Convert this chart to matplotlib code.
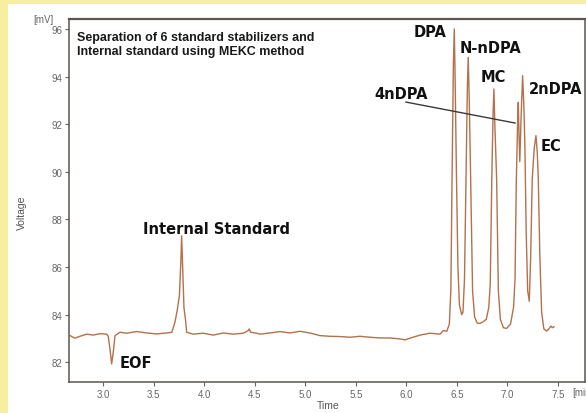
import matplotlib.pyplot as plt
from matplotlib.patches import Rectangle

# электрофореграмма: время (мин) и напряжение (мВ)
time_min = [2.673, 2.722, 2.771, 2.838, 2.903, 2.969, 3.036, 3.051, 3.068, 3.085,
            3.101, 3.118, 3.167, 3.233, 3.332, 3.431, 3.530, 3.629, 3.680, 3.711,
            3.734, 3.755, 3.770, 3.777, 3.785, 3.800, 3.815, 3.827, 3.892, 3.991,
            4.090, 4.189, 4.288, 4.387, 4.436, 4.446, 4.460, 4.519, 4.552, 4.651,
            4.750, 4.849, 4.948, 5.046, 5.145, 5.244, 5.343, 5.442, 5.541, 5.640,
            5.739, 5.838, 5.937, 5.986, 6.036, 6.135, 6.234, 6.333, 6.365, 6.400,
            6.425, 6.440, 6.452, 6.465, 6.474, 6.482, 6.495, 6.510, 6.525, 6.547,
            6.560, 6.575, 6.590, 6.603, 6.612, 6.622, 6.636, 6.655, 6.675, 6.700,
            6.728, 6.760, 6.790, 6.815, 6.830, 6.845, 6.858, 6.866, 6.875, 6.893,
            6.910, 6.930, 6.960, 6.990, 7.030, 7.060, 7.075, 7.087, 7.100, 7.107,
            7.114, 7.122, 7.135, 7.150, 7.162, 7.173, 7.185, 7.200, 7.216, 7.230,
            7.245, 7.265, 7.282, 7.295, 7.305, 7.320, 7.338, 7.360, 7.388, 7.410,
            7.430, 7.445, 7.460]
voltage_mv = [83.12, 83.01, 83.09, 83.18, 83.14, 83.20, 83.18, 83.09, 82.56, 81.93,
              82.43, 83.12, 83.26, 83.22, 83.29, 83.23, 83.19, 83.23, 83.26, 83.68,
              84.20, 84.80, 86.30, 87.31, 86.30, 84.30, 83.80, 83.26, 83.18, 83.22,
              83.14, 83.23, 83.18, 83.22, 83.33, 83.40, 83.26, 83.22, 83.18, 83.23,
              83.29, 83.23, 83.30, 83.23, 83.12, 83.09, 83.08, 83.05, 83.09, 83.05,
              83.02, 83.02, 82.98, 82.94, 83.01, 83.14, 83.22, 83.18, 83.33, 83.30,
              83.60, 85.00, 89.70, 94.50, 96.00, 94.00, 90.00, 86.00, 84.40, 84.00,
              84.10, 85.50, 89.70, 93.50, 94.81, 93.00, 89.70, 85.00, 83.90, 83.65,
              83.63, 83.70, 83.80, 84.30, 85.30, 89.70, 92.50, 93.48, 92.00, 89.70,
              85.00, 83.80, 83.45, 83.42, 83.60, 84.30, 85.50, 89.50, 92.00, 92.92,
              91.60, 90.43, 92.30, 94.04, 92.80, 91.00, 87.50, 85.00, 84.56, 86.50,
              89.70, 91.00, 91.52, 90.80, 89.70, 86.50, 84.10, 83.40, 83.31, 83.40,
              83.52, 83.45, 83.49]

x_ticks = [3.0, 3.5, 4.0, 4.5, 5.0, 5.5, 6.0, 6.5, 7.0, 7.5]
y_ticks = [82, 84, 86, 88, 90, 92, 94, 96]

peak_names = ['EOF', 'Internal Standard', 'DPA', 'N-nDPA', 'MC', '4nDPA', '2nDPA', 'EC']
title_lines = ['Separation of 6 standard stabilizers and',
               'Internal standard using MEKC method']

W, H = 586, 414
fig = plt.figure(figsize=(W / 100, H / 100), dpi=100, facecolor='#f7ee9f')
fig.patches.append(Rectangle((8 / W, 0), 1, (H - 5) / H, transform=fig.transFigure,
                             facecolor='white', edgecolor='none', zorder=-10))

ax = fig.add_axes([69 / W, 1 - 383 / H, (585 - 69) / W, (383 - 20) / H])
ax.plot(time_min, voltage_mv, color='#b3714c', linewidth=1.0)
ax.set_xlim(2.663, 7.767)
ax.set_ylim(81.17, 96.42)

ax.set_xticks(x_ticks)
ax.set_xticklabels([f'{t:.1f}' for t in x_ticks])
ax.set_yticks(y_ticks)
for lab in ax.get_xticklabels() + ax.get_yticklabels():
    lab.set_fontfamily('Liberation Sans')
    lab.set_fontsize(7)
ax.tick_params(colors='#6a625e', labelcolor='#666666', length=3, width=0.8, pad=2)
for side in ['left', 'bottom', 'right']:
    ax.spines[side].set_color('#5e5450')
    ax.spines[side].set_linewidth(1.1)
ax.spines['top'].set_color('#5e5450')
ax.spines['top'].set_linewidth(1.6)

# подписи пиков
lbl = dict(fontfamily='DejaVu Sans', fontweight='bold', fontsize=10.5, color='#111111',
           va='center')
pos = {
    'EOF': (3.167, 82.0, 'left'),
    'Internal Standard': (3.398, 87.63, 'left'),
    'DPA': (6.399, 95.9, 'right'),
    'N-nDPA': (6.523, 95.23, 'left'),
    'MC': (6.738, 94.01, 'left'),
    '4nDPA': (5.683, 93.31, 'left'),
    '2nDPA': (7.216, 93.48, 'left'),
    'EC': (7.331, 91.10, 'left'),
}
for name in peak_names:
    x, y, ha = pos[name]
    ax.text(x, y, name, ha=ha, **lbl)
ax.plot([5.996, 7.075], [92.93, 92.05], color='#3a3a3a', linewidth=1.0)

for i, line in enumerate(title_lines):
    fig.text(77 / W, 1 - (37.5 + 15 * i) / H, line, fontfamily='Liberation Sans',
             fontweight='bold', fontsize=9.0, color='#1a1a1a', va='center', ha='left')

fig.text(54 / W, 1 - 20 / H, '[mV]', ha='right', va='center', fontsize=7,
         fontfamily='Liberation Sans', color='#666666')
fig.text(22 / W, 1 - 213 / H, 'Voltage', rotation=90, ha='center', va='center',
         fontsize=7.5, fontfamily='Liberation Sans', color='#555555')
fig.text(328 / W, 1 - 406 / H, 'Time', ha='center', va='center', fontsize=7.5,
         fontfamily='Liberation Sans', color='#555555')
fig.text(572 / W, 1 - 393 / H, '[min]', ha='left', va='center', fontsize=7,
         fontfamily='Liberation Sans', color='#666666')

fig.savefig('out.png', dpi=100, facecolor=fig.get_facecolor())
